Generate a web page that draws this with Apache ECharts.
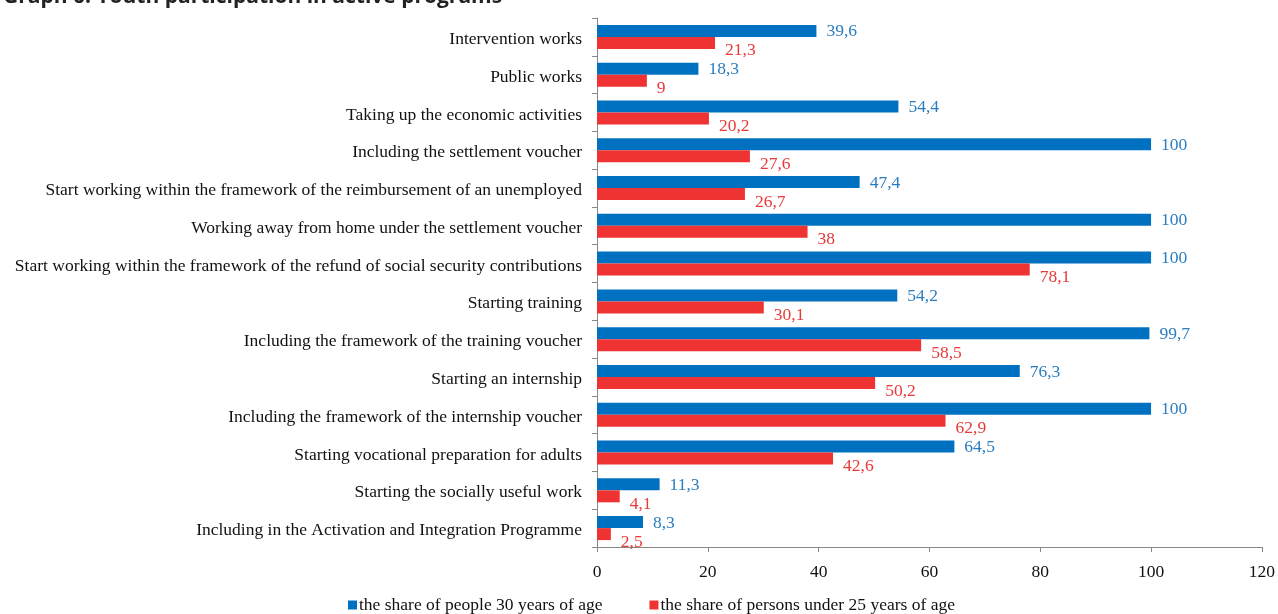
<!DOCTYPE html>
<html><head><meta charset="utf-8">
<script src="https://cdn.jsdelivr.net/npm/echarts@6/dist/echarts.min.js"></script>
<style>html,body{margin:0;padding:0;background:#fff}#c{width:1278px;height:614px}</style>
</head><body><div id="c"></div>
<script>
const categories = [
  "Intervention works",
  "Public works",
  "Taking up the economic activities",
  "Including the settlement voucher",
  "Start working within the framework of the reimbursement of an unemployed",
  "Working away from home under the settlement voucher",
  "Start working within the framework of the refund of social security contributions",
  "Starting training",
  "Including the framework of the training voucher",
  "Starting an internship",
  "Including the framework of the internship voucher",
  "Starting vocational preparation for adults",
  "Starting the socially useful work",
  "Including in the Activation and Integration Programme"
];
const share30 = [39.6, 18.3, 54.4, 100, 47.4, 100, 100, 54.2, 99.7, 76.3, 100, 64.5, 11.3, 8.3];
const share25 = [21.3, 9, 20.2, 27.6, 26.7, 38, 78.1, 30.1, 58.5, 50.2, 62.9, 42.6, 4.1, 2.5];
const xTicks = [0, 20, 40, 60, 80, 100, 120];

const fmt = p => String(p.value).replace('.', ',');
const chart = echarts.init(document.getElementById('c'));
chart.setOption({
  animation: false,
  textStyle: {fontFamily: 'Liberation Serif'},
  title: {
    text: 'Graph 6. Youth participation in active programs',
    left: -2, top: -18,
    textStyle: {fontFamily: 'Open Sans', fontWeight: 'bold', fontSize: 21, color: '#222'}
  },
  legend: {
    bottom: -5, left: 343,
    itemWidth: 9, itemHeight: 9, itemGap: 47,
    icon: 'rect',
    textStyle: {fontFamily: 'Liberation Serif', fontSize: 17.5, color: '#111', padding: [0, 0, 0, -3]},
    data: ['the share of people 30 years of age', 'the share of persons under 25 years of age']
  },
  grid: {left: 597, right: 14, top: 18, bottom: 67, containLabel: false},
  xAxis: {
    type: 'value', min: 0, max: 120, interval: 20,
    axisLine: {show: true, lineStyle: {color: '#888'}},
    axisTick: {show: true, length: 5, lineStyle: {color: '#888'}},
    splitLine: {show: false},
    axisLabel: {fontSize: 17.5, color: '#111', margin: 16,
      formatter: v => xTicks.includes(v) ? String(v) : ''}
  },
  yAxis: {
    type: 'category', data: categories, inverse: true,
    axisLine: {show: true, lineStyle: {color: '#888'}},
    axisTick: {show: true, length: 5, lineStyle: {color: '#888'}},
    axisLabel: {
      margin: 15, formatter: v => '{a|' + v + '}',
      rich: {a: {fontFamily: 'Liberation Serif', fontSize: 17.5, color: '#111', padding: [5, 0, 0, 0]}}
    }
  },
  series: [
    {
      name: 'the share of people 30 years of age', type: 'bar', data: share30,
      barWidth: 12, barGap: '0%',
      itemStyle: {color: '#0070C0'},
      label: {show: true, position: 'right', distance: 10, offset: [0, 1], fontSize: 17.5, color: '#2A7DC0', formatter: fmt}
    },
    {
      name: 'the share of persons under 25 years of age', type: 'bar', data: share25,
      barWidth: 12, barGap: '0%',
      itemStyle: {color: '#EF3333'},
      label: {show: true, position: 'right', distance: 10, offset: [0, 8], fontSize: 17.5, color: '#E83A3A', formatter: fmt}
    }
  ]
});
</script></body></html>
